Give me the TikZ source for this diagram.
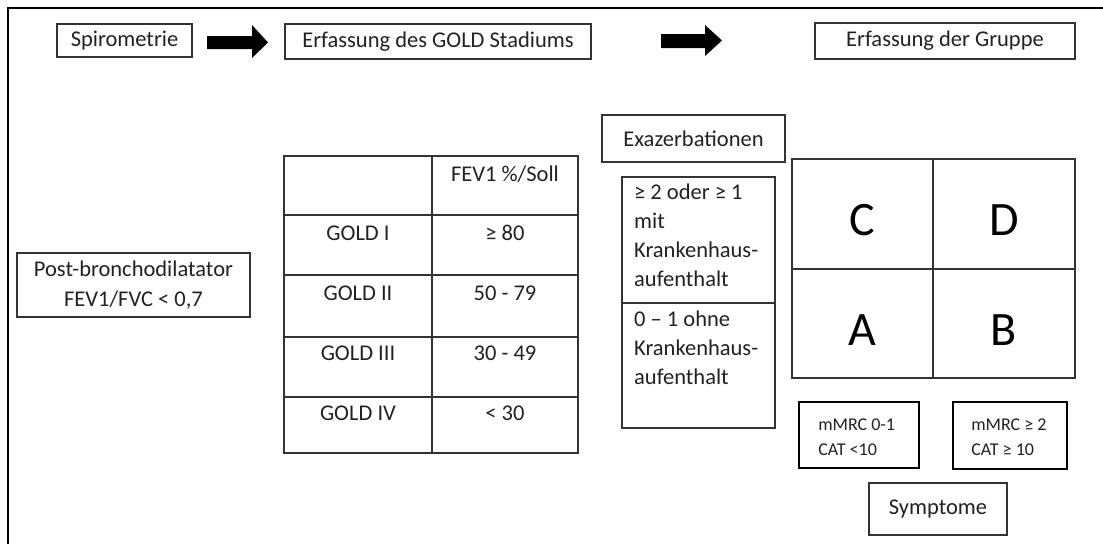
\documentclass[tikz,border=0pt]{standalone}
\usepackage{fontspec}
\setmainfont{Carlito}
\definecolor{txt}{HTML}{222222}
\definecolor{ln}{HTML}{333333}
\begin{document}
\begin{tikzpicture}[x=1pt,y=-1pt,
  box/.style={draw=ln, line width=1.3pt, inner sep=0pt, text=txt, font=\fontsize{22.5}{30}\selectfont},
  thickbox/.style={draw=black, line width=2.6pt, text=txt, font=\fontsize{18}{25}\selectfont, align=left},
  lbl/.style={text=txt, inner sep=0pt, font=\fontsize{22.5}{28.7}\selectfont},
  big/.style={text=black, inner sep=0pt, font=\fontsize{48}{48}\selectfont},
  gridline/.style={draw=ln, line width=1.4pt},
  blockarrow/.style={fill=black}
]
\useasboundingbox (0,0) rectangle (1103,544);
\fill[white] (0,0) rectangle (1103,544);
% frame
\draw[line width=2.5pt, black] (8,544) -- (8,8) -- (1103,8);

% top row
\node[box, minimum width=135pt, minimum height=33pt] (spiro) at (124.5,40.5) {Spirometrie};
\node[box, minimum width=306pt, minimum height=35pt] (gold) at (438,41.5) {Erfassung des GOLD Stadiums};
\node[box, minimum width=260pt, minimum height=36pt] (gruppe) at (945,41) {Erfassung der Gruppe};

% block arrows
\coordinate (a1) at (207,42.5);
\fill[blockarrow] (a1) ++(0,-6.5) -- ++(45,0) -- ++(0,-11) -- ++(16,17.5) -- ++(-16,15.5) -- ++(0,-9) -- ++(-45,0) -- cycle;
\coordinate (a2) at (661,41);
\fill[blockarrow] (a2) ++(0,-7) -- ++(44,0) -- ++(0,-9) -- ++(17,15.5) -- ++(-17,15.5) -- ++(0,-8) -- ++(-44,0) -- cycle;

% post-bronchodilatator
\node[box, minimum width=233pt, minimum height=64pt, align=center] (post) at (133.5,285) {Post-bronchodilatator\\FEV1/FVC < 0,7};

% GOLD table
\draw[gridline] (284,156) rectangle (578,453);
\draw[gridline] (432,156) -- (432,453);
\foreach \y in {215,275,337,397} \draw[gridline] (284,\y) -- (578,\y);
\node[lbl, anchor=base] (h2) at (505,181) {FEV1 \%/Soll};
\node[lbl, anchor=base] (g1) at (358,240) {GOLD I};
\node[lbl, anchor=base] (v1) at (505,240) {≥ 80};
\node[lbl, anchor=base] (g2) at (358,300) {GOLD II};
\node[lbl, anchor=base] (v2) at (505,300) {50 - 79};
\node[lbl, anchor=base] (g3) at (358,360) {GOLD III};
\node[lbl, anchor=base] (v3) at (505,360) {30 - 49};
\node[lbl, anchor=base] (g4) at (358,420) {GOLD IV};
\node[lbl, anchor=base] (v4) at (505,420) {< 30};

% Exazerbationen
\node[box, minimum width=183pt, minimum height=47pt] (exa) at (693.5,138.5) {Exazerbationen};
\draw[gridline] (622,177) rectangle (775,428);
\draw[gridline] (622,303) -- (775,303);
\node[lbl, anchor=base west, align=left] (e1) at (634,286) {≥ 2 oder ≥ 1\\mit\\Krankenhaus-\\aufenthalt};
\node[lbl, anchor=base west, align=left] (e2) at (634,384) {0 – 1 ohne\\Krankenhaus-\\aufenthalt};

% ABCD grid
\draw[gridline] (792,159) rectangle (1075,378);
\draw[gridline] (933,159) -- (933,378);
\draw[gridline] (792,269) -- (1075,269);
\node[big, anchor=base] (C) at (862.5,235) {C};
\node[big, anchor=base] (D) at (1004,235) {D};
\node[big, anchor=base] (A) at (862.5,345) {A};
\node[big, anchor=base] (B) at (1004,345) {B};

% symptom boxes
\node[thickbox, minimum width=120pt, minimum height=66pt] (m1) at (859,435) {};
\node[thickbox, minimum width=114pt, minimum height=67pt] (m2) at (1010,435.5) {};
\node[thickbox, draw=none, inner sep=0pt, anchor=base west] (m1t) at (817,455) {mMRC 0-1\\CAT <10};
\node[thickbox, draw=none, inner sep=0pt, anchor=base west] (m2t) at (970,455) {mMRC ≥ 2\\CAT ≥ 10};
\node[box, minimum width=138pt, minimum height=52pt] (sym) at (938,509) {Symptome};
\end{tikzpicture}
\end{document}
